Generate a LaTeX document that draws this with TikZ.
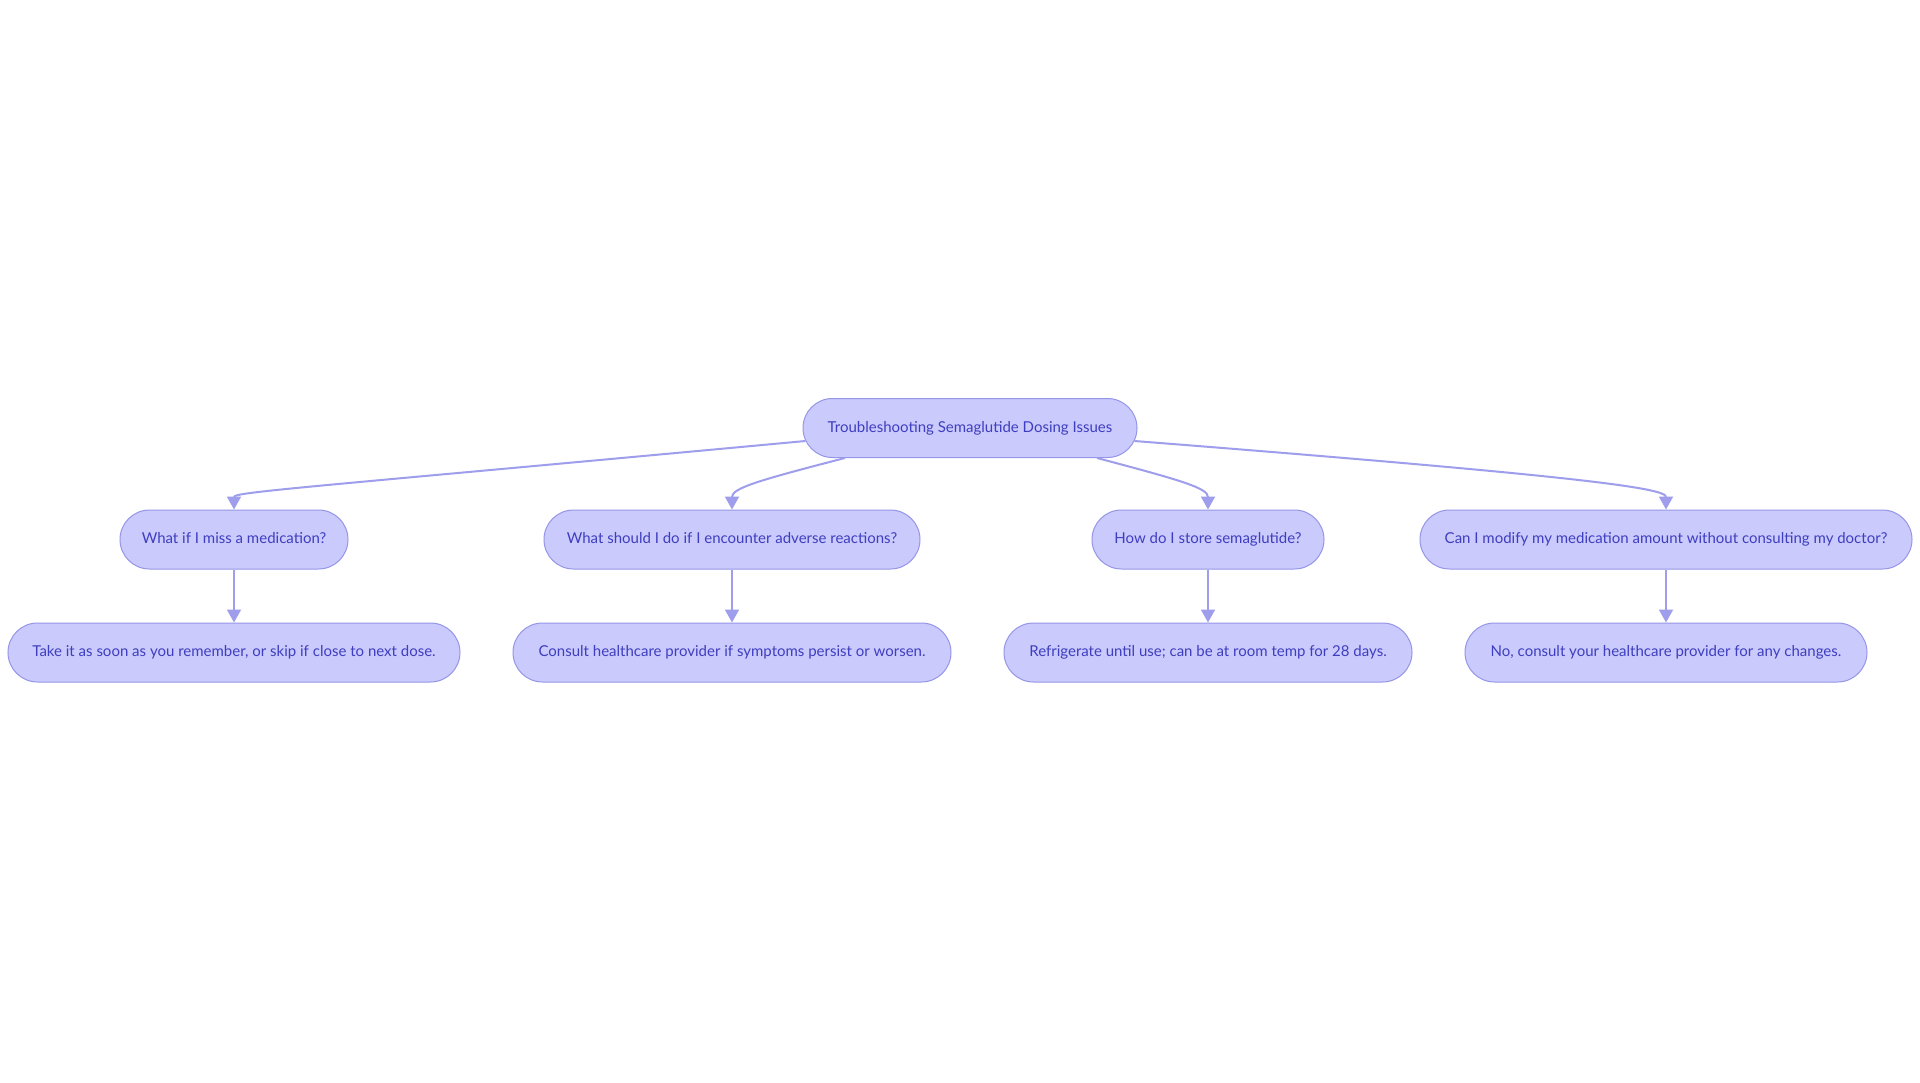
\documentclass[tikz,border=0pt]{standalone}
\usepackage{fontspec}
\setmainfont{Lato}
\usetikzlibrary{arrows.meta,positioning}

\definecolor{bubblefill}{RGB}{202,202,252}
\definecolor{bubbleline}{RGB}{150,150,232}
\definecolor{edgeline}{RGB}{158,158,236}
\definecolor{bubbletext}{RGB}{62,62,192}

\begin{document}
\begin{tikzpicture}[x=1pt,y=-1pt,->,>={Triangle[length=13pt,width=14pt]},edgeline,line width=2pt,node distance=53pt]
	\tikzstyle{bubble}=[draw=bubbleline,line width=1pt,fill=bubblefill,text=bubbletext,rounded corners=29.5pt,minimum height=59pt,inner xsep=8pt,text height=11pt,text depth=3pt,font=\fontsize{15}{18}\selectfont]

	\path[-,fill=white,use as bounding box] (0,0) rectangle (1920,1083);

	\node[bubble,minimum width=334pt] (T) at (970,428) {Troubleshooting Semaglutide Dosing Issues};

	\node[bubble,minimum width=228pt] (A) at (234,539.5) {What if I miss a medication?};
	\node[bubble,minimum width=376pt] (B) at (732,539.5) {What should I do if I encounter adverse reactions?};
	\node[bubble,minimum width=232pt] (C) at (1208,539.5) {How do I store semaglutide?};
	\node[bubble,minimum width=492pt] (D) at (1666,539.5) {Can I modify my medication amount without consulting my doctor?};

	\node[bubble,minimum width=452pt] (a) [below=of A] {Take it as soon as you remember, or skip if close to next dose.};
	\node[bubble,minimum width=438pt] (b) [below=of B] {Consult healthcare provider if symptoms persist or worsen.};
	\node[bubble,minimum width=408pt] (c) [below=of C] {Refrigerate until use; can be at room temp for 28 days.};
	\node[bubble,minimum width=402pt] (d) [below=of D] {No, consult your healthcare provider for any changes.};

	\draw ([xshift=3pt,yshift=-13pt]T.west) .. controls (300,488) and (234,492) .. (A.north);
	\draw ([xshift=-125pt]T.south) .. controls (760,480) and (732,488) .. (B.north);
	\draw ([xshift=127pt]T.south) .. controls (1180,480) and (1208,488) .. (C.north);
	\draw ([xshift=-3pt,yshift=-13pt]T.east) .. controls (1580,476) and (1666,488) .. (D.north);

	\path (A) edge (a);
	\path (B) edge (b);
	\path (C) edge (c);
	\path (D) edge (d);
\end{tikzpicture}
\end{document}
